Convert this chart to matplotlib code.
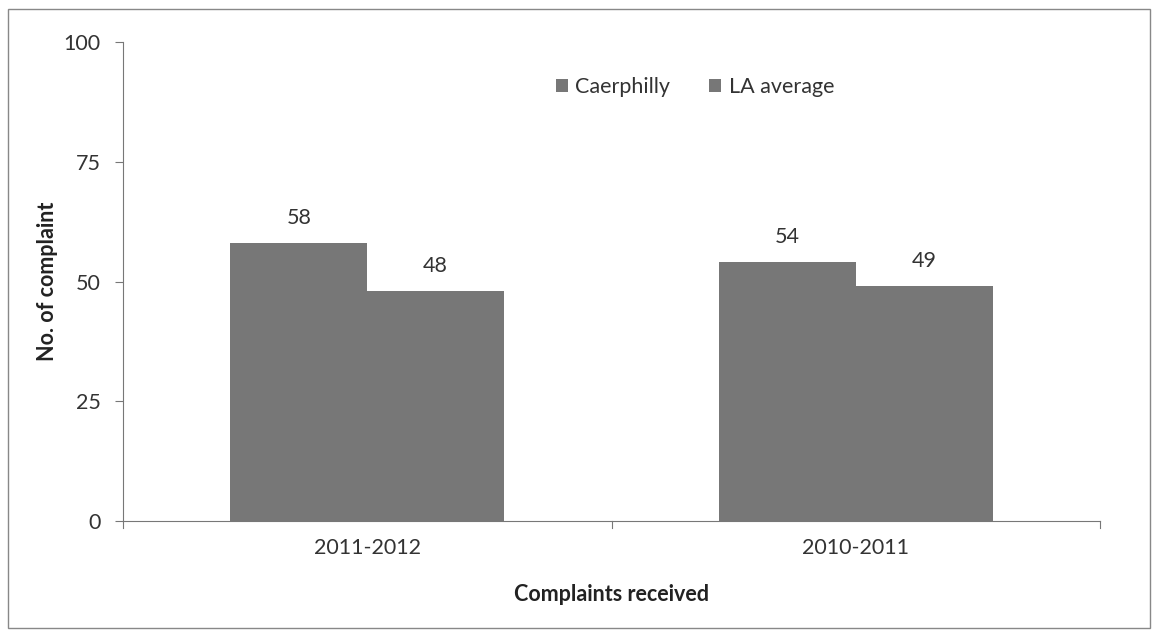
import numpy as np
from matplotlib import pyplot as plt
from matplotlib.patches import Rectangle

plt.rcParams['font.family'] = ['Lato', 'DejaVu Sans']

periods = ["2011-2012", "2010-2011"]
caerphilly = [58, 54]
la_average = [48, 49]
series_names = ["Caerphilly", "LA average"]
y_ticks = [0, 25, 50, 75, 100]

fs = 15.5
txt_col = "#333333"

fig = plt.figure(figsize=(11.56, 6.30), dpi=100)
ax = fig.add_axes([123 / 1156, 1 - 521 / 630, (1100 - 123) / 1156, (521 - 42) / 630])

x = np.arange(len(periods))
w = 0.28
bar_col = "#777777"
b1 = ax.bar(x - w / 2, caerphilly, w, color=bar_col, label=series_names[0])
b2 = ax.bar(x + w / 2, la_average, w, color=bar_col, label=series_names[1])

for bars, vals in ((b1, caerphilly), (b2, la_average)):
    for rect, v in zip(bars, vals):
        ax.text(rect.get_x() + rect.get_width() / 2, v + 3.2, str(v),
                ha="center", va="bottom", fontsize=fs, color=txt_col)

ax.set_xlim(-0.5, len(periods) - 0.5)
ax.set_ylim(0, 100)
ax.set_yticks(y_ticks)
ax.set_yticklabels([str(t) for t in y_ticks], fontsize=fs, color=txt_col)
ax.set_xticks(x)
ax.set_xticklabels(periods, fontsize=fs, color=txt_col)
ax.tick_params(axis="x", length=0, pad=12)
ax.tick_params(axis="y", length=6, width=0.8, color="#777777", pad=10)

# category separators on the x axis
for sep in np.arange(-0.5, len(periods), 1.0):
    ax.plot([sep, sep], [0, -1.5], color="#777777", lw=0.8, clip_on=False)

for side in ("top", "right"):
    ax.spines[side].set_visible(False)
for side in ("left", "bottom"):
    ax.spines[side].set_color("#777777")
    ax.spines[side].set_linewidth(0.8)

ax.set_ylabel("No. of complaint", fontsize=fs, fontweight="bold", color="#222222", labelpad=4)
ax.set_xlabel("Complaints received", fontsize=fs, fontweight="bold", color="#222222", labelpad=19)

leg = fig.legend(loc="center", bbox_to_anchor=(695 / 1156, 1 - 87 / 630), ncol=2,
                 frameon=False, fontsize=fs, handlelength=0.55, handleheight=0.55,
                 columnspacing=1.8, handletextpad=0.35)
for t in leg.get_texts():
    t.set_color(txt_col)

# outer chart frame
fig.patches.append(Rectangle((8 / 1156, 1 - 628 / 630), (1150 - 8) / 1156, (628 - 9) / 630,
                             transform=fig.transFigure, fill=False, edgecolor="#888888", lw=1.0))

fig.savefig("out.png", dpi=100)
